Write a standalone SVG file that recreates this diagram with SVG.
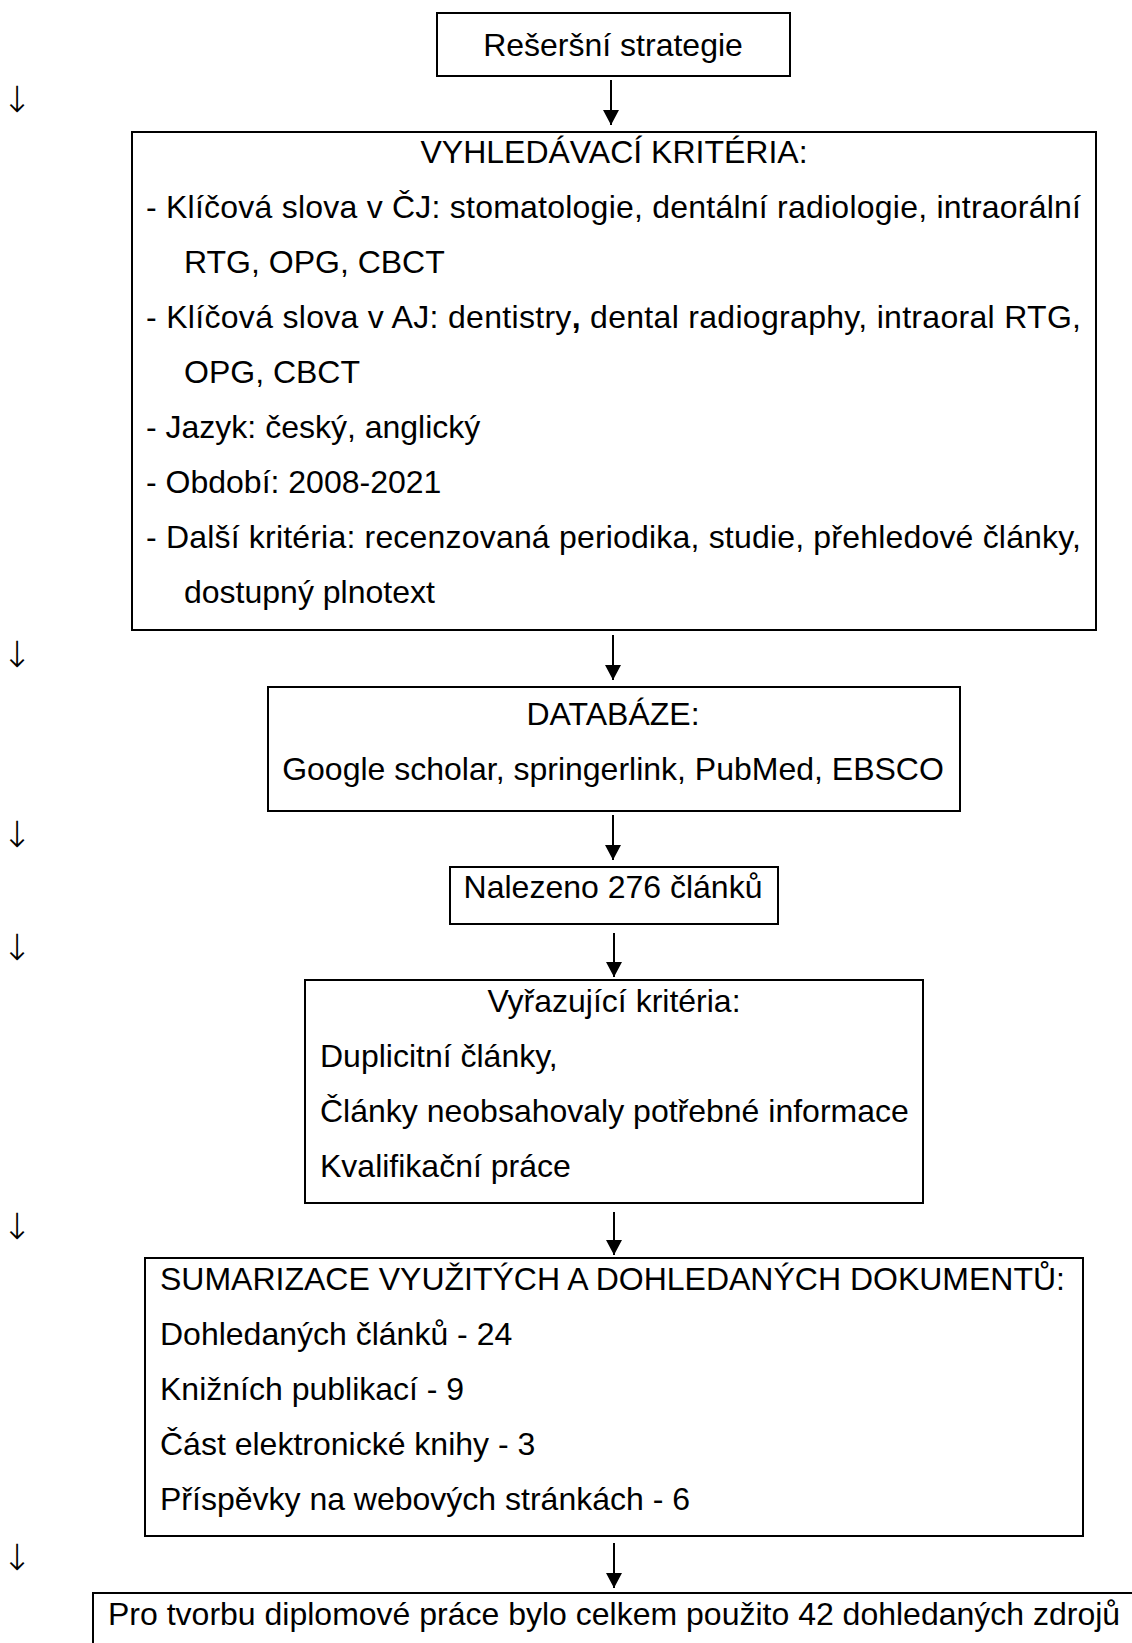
<svg xmlns="http://www.w3.org/2000/svg" width="1132" height="1643" viewBox="0 0 1132 1643">
<style>
text{font-family:"Liberation Sans",Arial,sans-serif;font-size:32px;fill:#000}
.c{text-anchor:middle}
.box{fill:#fff;stroke:#000;stroke-width:2}
.con{stroke:#000;stroke-width:2;fill:none}
.side{font-family:"DejaVu Sans",sans-serif;font-size:36px;font-weight:200}
</style>
<defs>
<marker id="ah" markerUnits="userSpaceOnUse" markerWidth="16" markerHeight="16" refX="15" refY="8" orient="auto" viewBox="0 0 16 16">
<path d="M0,0 L15,8 L0,16 Z" fill="#000"/>
</marker>
</defs>
<rect width="1132" height="1643" fill="#fff"/>
<g id="n1"><rect class="box" x="437" y="13" width="353" height="63"/><text class="c" x="613" y="56">Rešeršní strategie</text></g>
<g id="n2"><rect class="box" x="132" y="132" width="964" height="498"/>
<text class="c" x="614" y="163">VYHLEDÁVACÍ KRITÉRIA:</text>
<text x="146" y="218" textLength="935" lengthAdjust="spacing">- Klíčová slova v ČJ: stomatologie, dentální radiologie, intraorální</text>
<text x="184" y="273">RTG, OPG, CBCT</text>
<text x="146" y="328" textLength="935" lengthAdjust="spacing">- Klíčová slova v AJ: dentistry<tspan font-weight="bold">,</tspan> dental radiography, intraoral RTG,</text>
<text x="184" y="383">OPG, CBCT</text>
<text x="146" y="438">- Jazyk: český, anglický</text>
<text x="146" y="493">- Období: 2008-2021</text>
<text x="146" y="548" textLength="935" lengthAdjust="spacing">- Další kritéria: recenzovaná periodika, studie, přehledové články,</text>
<text x="184" y="603">dostupný plnotext</text>
</g>
<g id="n3"><rect class="box" x="268" y="687" width="692" height="124"/>
<text class="c" x="613" y="725">DATABÁZE:</text>
<text class="c" x="613" y="780">Google scholar, springerlink, PubMed, EBSCO</text></g>
<g id="n4"><rect class="box" x="450" y="867" width="328" height="57"/>
<text class="c" x="613" y="898">Nalezeno 276 článků</text></g>
<g id="n5"><rect class="box" x="305" y="980" width="618" height="223"/>
<text class="c" x="614" y="1012">Vyřazující kritéria:</text>
<text x="320" y="1067">Duplicitní články,</text>
<text x="320" y="1122">Články neobsahovaly potřebné informace</text>
<text x="320" y="1177">Kvalifikační práce</text></g>
<g id="n6"><rect class="box" x="145" y="1258" width="938" height="278"/>
<text x="160" y="1290">SUMARIZACE VYUŽITÝCH A DOHLEDANÝCH DOKUMENTŮ:</text>
<text x="160" y="1345">Dohledaných článků - 24</text>
<text x="160" y="1400">Knižních publikací - 9</text>
<text x="160" y="1455">Část elektronické knihy - 3</text>
<text x="160" y="1510">Příspěvky na webových stránkách - 6</text></g>
<g id="n7"><rect class="box" x="93" y="1593" width="1100" height="100"/>
<text x="108" y="1625">Pro tvorbu diplomové práce bylo celkem použito 42 dohledaných zdrojů</text></g>
<g id="connectors">
<line class="con" x1="611" y1="80" x2="611" y2="125" marker-end="url(#ah)"/>
<line class="con" x1="613" y1="635" x2="613" y2="680" marker-end="url(#ah)"/>
<line class="con" x1="613" y1="815" x2="613" y2="860" marker-end="url(#ah)"/>
<line class="con" x1="614" y1="933" x2="614" y2="977" marker-end="url(#ah)"/>
<line class="con" x1="614" y1="1212" x2="614" y2="1255" marker-end="url(#ah)"/>
<line class="con" x1="614" y1="1543" x2="614" y2="1588" marker-end="url(#ah)"/>
</g>
<g id="side-arrows">
<text class="side" x="2" y="112">↓</text>
<text class="side" x="2" y="667">↓</text>
<text class="side" x="2" y="847">↓</text>
<text class="side" x="2" y="960">↓</text>
<text class="side" x="2" y="1239">↓</text>
<text class="side" x="2" y="1570">↓</text>
</g>
</svg>
